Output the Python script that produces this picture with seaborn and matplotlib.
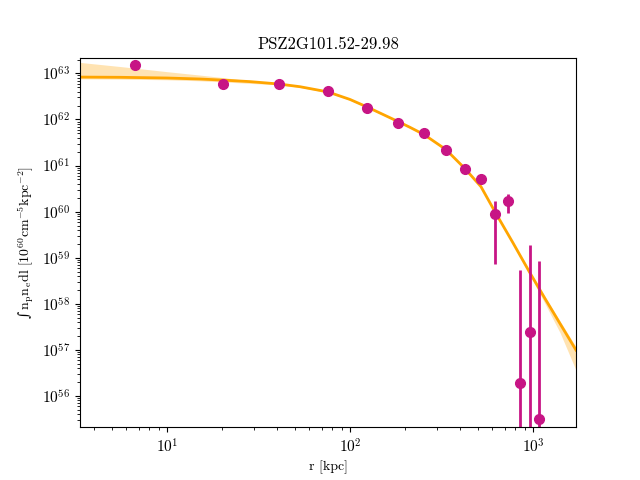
import numpy as np
import pandas as pd
import matplotlib
matplotlib.use('Agg')
import matplotlib.pyplot as plt
import seaborn as sns

# measured profile
r_data = [6.7, 20.2, 40.9, 75.9, 124, 183, 254, 335, 425, 520, 620, 729, 849, 963, 1079]
y_data = [1.5e63, 6.0e62, 5.8e62, 4.1e62, 1.73e62, 8.5e61, 5.2e61, 2.2e61,
          8.5e60, 5.2e60, 9.1e59, 1.74e60, 1.9e56, 2.4e57, 3.2e55]
y_low = [1.35e63, 5.6e62, 5.5e62, 3.9e62, 1.65e62, 8.1e61, 4.9e61, 2.05e61,
         7.8e60, 4.6e60, 7.4e58, 9.5e59, 1e50, 1e50, 1e50]
y_high = [1.65e63, 6.4e62, 6.1e62, 4.3e62, 1.81e62, 8.9e61, 5.5e61, 2.35e61,
          9.2e60, 5.8e60, 1.7e60, 2.4e60, 5.5e58, 1.9e59, 8.5e58]

# best-fit model and its band
r_model = [3.347, 5.54, 10, 15.15, 20.75, 28.4, 40.9, 53.3, 75.8, 100, 123.9, 145.9,
           182.9, 212.8, 253.8, 334.6, 425.1, 519.8, 619.9, 777.6, 962.9, 1163, 1405, 1718]
y_model = [8.31e62, 8.22e62, 7.94e62, 7.55e62, 7.11e62, 6.63e62, 5.88e62, 5.14e62,
           3.96e62, 2.72e62, 1.87e62, 1.38e62, 9.04e61, 6.75e61, 4.71e61, 2.22e61,
           8.57e60, 3.48e60, 9.93e59, 2.10e59, 4.68e58, 1.30e58, 3.72e57, 9.89e56]
y_model_lo = [7.60e62, 7.51e62, 7.26e62, 6.90e62, 6.50e62, 6.06e62, 5.67e62, 4.96e62,
              3.82e62, 2.62e62, 1.80e62, 1.33e62, 8.72e61, 6.51e61, 4.55e61, 2.14e61,
              8.27e60, 3.36e60, 9.58e59, 1.95e59, 4.13e58, 1.01e58, 2.37e57, 3.63e56]
y_model_hi = [1.73e63, 1.41e63, 1.09e63, 9.19e62, 8.02e62, 6.90e62, 6.09e62, 5.32e62,
              4.10e62, 2.82e62, 1.94e62, 1.43e62, 9.36e61, 6.99e61, 4.87e61, 2.30e61,
              8.87e60, 3.60e60, 1.03e60, 2.21e59, 5.04e58, 1.44e58, 4.21e57, 1.17e57]


def main():
    plt.rcParams['font.family'] = 'serif'
    plt.rcParams['font.serif'] = ['cmr10']
    plt.rcParams['mathtext.fontset'] = 'cm'
    plt.rcParams['axes.formatter.use_mathtext'] = True

    model = pd.DataFrame({'r': r_model, 'y': y_model})

    fig, ax = plt.subplots(figsize=(6.4, 4.8), dpi=100)

    ax.fill_between(r_model, y_model_lo, y_model_hi, color='orange', alpha=0.3, lw=0)
    sns.lineplot(data=model, x='r', y='y', color='orange', lw=2, ax=ax)

    y = np.array(y_data)
    yerr = [y - np.array(y_low), np.array(y_high) - y]
    ax.errorbar(r_data, y_data, yerr=yerr, fmt='o', color='mediumvioletred',
                ms=7, elinewidth=2, capsize=0)

    ax.set_xscale('log')
    ax.set_yscale('log')
    ax.set_xlim(3.35, 1718)
    ax.set_ylim(2.1e55, 2.2e63)
    ax.tick_params(labelsize=11)

    ax.set_title('PSZ2G101.52-29.98')
    ax.set_xlabel('r [kpc]')
    ax.set_ylabel('\u222b' + r'$\,\mathrm{n_p n_e dl}\ [10^{60}\mathrm{cm^{-5}kpc^{-2}}]$',
                  family='DejaVu Serif')

    fig.savefig('out.png')


if __name__ == '__main__': main()
